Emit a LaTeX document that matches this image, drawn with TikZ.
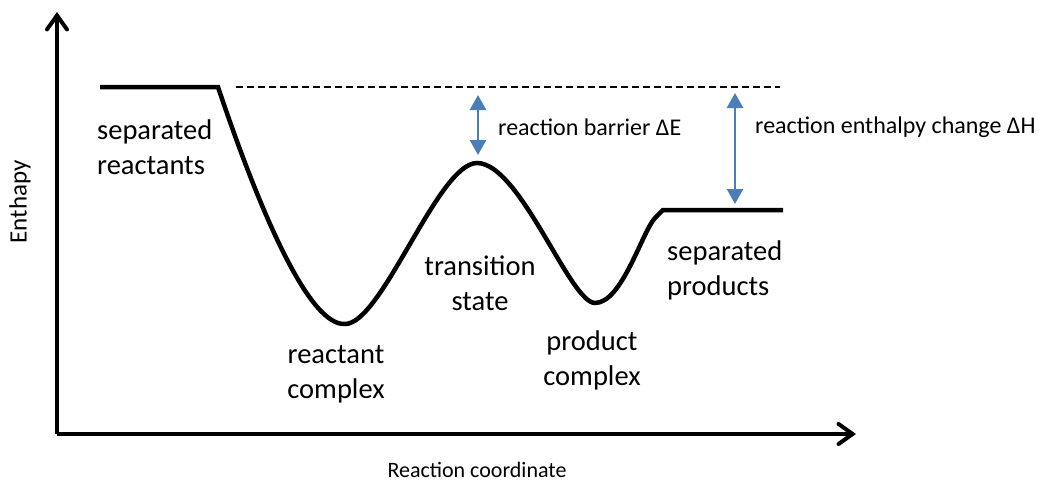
\documentclass[tikz,border=0pt]{standalone}
\usepackage{fontspec}
\setmainfont{Carlito}
\usetikzlibrary{arrows.meta}
\definecolor{arrowblue}{RGB}{74,126,187}
\begin{document}
\begin{tikzpicture}[x=1pt,y=-1pt,
  axis/.style={line width=4pt,-{Straight Barb[length=14pt,width=20pt,line cap=round]}},
  energy/.style={line width=4.5pt},
  level/.style={line width=1.5pt,dash pattern=on 7pt off 4pt},
  gap/.style={line width=2.5pt,arrowblue,{Triangle[length=15pt,width=16pt]}-{Triangle[length=15pt,width=16pt]}},
  biglabel/.style={inner sep=0pt,font=\fontsize{28.5}{35}\selectfont},
  smalllabel/.style={inner sep=0pt,font=\fontsize{24}{29}\selectfont},
  axislabel/.style={inner sep=0pt,font=\fontsize{22}{26}\selectfont}]
\useasboundingbox (0,0) rectangle (1039,482);
% axes
\coordinate (origin) at (57,434);
\coordinate (ytip) at (57,12);
\coordinate (xtip) at (856,434);
\draw[axis] (origin) -- (ytip);
\draw[axis] (origin) -- (xtip);
\node[axislabel,rotate=90,font=\fontsize{25}{30}\selectfont] (ylab) at (20,202) {Enthapy};
\node[axislabel] (xlab) at (477,470) {Reaction coordinate};
% energy profile
\coordinate (r0) at (100,87);
\coordinate (r1) at (218,87);
\coordinate (rc) at (345,324);
\coordinate (ts) at (477,163);
\coordinate (pc) at (595,303);
\coordinate (p0) at (663,210);
\coordinate (p1) at (783,210);
\draw[energy] (r0) -- (r1)
  .. controls (262,218) and (310,326) .. (rc)
  .. controls (382,324) and (438,163) .. (ts)
  .. controls (520,163) and (570,303) .. (pc)
  .. controls (622,303) and (642,232) .. (655,218)
  -- (p0) -- (p1);
% reference level
\coordinate (d0) at (236,87);
\coordinate (d1) at (780,87);
\draw[level] (d0) -- (d1);
% gaps
\coordinate (a1t) at (478,95);
\coordinate (a1b) at (478,155);
\coordinate (a2t) at (735,93);
\coordinate (a2b) at (735,204);
\draw[gap] (a1t) -- (a1b);
\draw[gap] (a2t) -- (a2b);
\node[smalllabel,anchor=west] (barrier) at (498,127) {reaction barrier ΔE};
\node[smalllabel,anchor=west] (enthalpy) at (755,127) {reaction enthalpy change ΔH};
% labels
\node[biglabel,anchor=west,align=left] (sr) at (97,147) {separated\\reactants};
\node[biglabel,align=center] (rcl) at (336,374) {reactant\\complex};
\node[biglabel,align=center] (tsl) at (480,283) {transition\\state};
\node[biglabel,align=center] (pcl) at (592,360) {product\\complex};
\node[biglabel,anchor=west,align=left] (sp) at (667,270) {separated\\products};
\end{tikzpicture}
\end{document}
